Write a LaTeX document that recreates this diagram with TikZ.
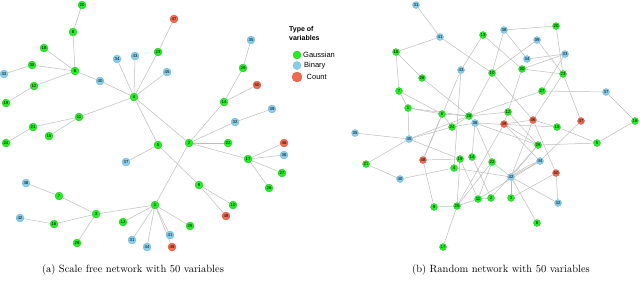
\documentclass[tikz,border=0pt]{standalone}
\usepackage{fontspec}
\newfontfamily\lsans{Liberation Sans}
\usetikzlibrary{backgrounds}
\definecolor{gfill}{HTML}{22EE22}
\definecolor{gdraw}{HTML}{33BB33}
\definecolor{bfill}{HTML}{87CEEB}
\definecolor{bdraw}{HTML}{6FAFD0}
\definecolor{cfill}{HTML}{F26A4F}
\definecolor{cdraw}{HTML}{D05540}
\definecolor{edgec}{HTML}{BDBDBD}
\begin{document}
\begin{tikzpicture}[x=1pt,y=-1pt,
  vbase/.style={circle,inner sep=0pt,line width=0.3pt,font=\lsans\fontsize{4.3}{4.3}\selectfont},
  ga/.style={vbase,minimum size=8pt,fill=gfill,draw=gdraw},
  ba/.style={vbase,minimum size=8pt,fill=bfill,draw=bdraw},
  ca/.style={vbase,minimum size=8pt,fill=cfill,draw=cdraw},
  gb/.style={vbase,minimum size=7pt,fill=gfill,draw=gdraw},
  bb/.style={vbase,minimum size=7pt,fill=bfill,draw=bdraw},
  cb/.style={vbase,minimum size=7pt,fill=cfill,draw=cdraw},
  edge/.style={draw=edgec,line width=0.5pt},
  legtext/.style={anchor=west,inner sep=0pt,font=\lsans\fontsize{7.5}{8}\selectfont},
  captext/.style={inner sep=0pt,font=\fontsize{10.5}{12}\selectfont}
]
\useasboundingbox (0,0) rectangle (640,282);
% ---------- left graph ----------
\node[ga] (a1) at (155,205) {1};
\node[ga] (a2) at (189,143) {2};
\node[ga] (a3) at (96,214) {3};
\node[ga] (a4) at (134,97) {4};
\node[ga] (a5) at (158,145) {5};
\node[ga] (a6) at (75,71) {6};
\node[ga] (a7) at (59,196) {7};
\node[ga] (a8) at (73,32) {8};
\node[ga] (a9) at (199,185) {9};
\node[ga] (a10) at (233,205) {10};
\node[ga] (a11) at (79,117) {11};
\node[ga] (a12) at (34,86) {12};
\node[ga] (a13) at (123,222) {13};
\node[ga] (a14) at (224,102) {14};
\node[ga] (a15) at (49,136) {15};
\node[ga] (a16) at (54,224) {16};
\node[ga] (a17) at (248,159) {17};
\node[ga] (a18) at (44,48) {18};
\node[ga] (a19) at (6,103) {19};
\node[ga] (a20) at (82,5) {20};
\node[ga] (a21) at (33,127) {21};
\node[ga] (a22) at (228,143) {22};
\node[ga] (a23) at (158,52) {23};
\node[ga] (a24) at (6,143) {24};
\node[ga] (a25) at (190,226) {25};
\node[ga] (a26) at (269,188) {26};
\node[ga] (a27) at (282,173) {27};
\node[ga] (a28) at (77,243) {28};
\node[ga] (a29) at (243,68) {29};
\node[ga] (a30) at (32,65) {30};
\node[ba] (a31) at (132,240) {31};
\node[ba] (a32) at (235,122) {32};
\node[ba] (a33) at (4,74) {33};
\node[ba] (a34) at (117,59) {34};
\node[ba] (a35) at (251,40) {35};
\node[ba] (a36) at (284,155) {36};
\node[ba] (a37) at (126,162) {37};
\node[ba] (a38) at (26,183) {38};
\node[ba] (a39) at (272,109) {39};
\node[ba] (a40) at (100,81) {40};
\node[ba] (a41) at (170,235) {41};
\node[ba] (a42) at (20,218) {42};
\node[ba] (a43) at (135,56) {43};
\node[ba] (a44) at (147,247) {44};
\node[ba] (a45) at (167,72) {45};
\node[ca] (a46) at (284,143) {46};
\node[ca] (a47) at (174,19) {47};
\node[ca] (a48) at (226,216) {48};
\node[ca] (a49) at (172,247) {49};
\node[ca] (a50) at (257,85) {50};
% ---------- right graph ----------
\node[gb] (b1) at (408,108) {1};
\node[gb] (b2) at (491,198) {2};
\node[gb] (b3) at (511,198) {3};
\node[gb] (b4) at (454,168) {4};
\node[gb] (b5) at (597,143) {5};
\node[gb] (b6) at (442,114) {6};
\node[gb] (b7) at (399,91) {7};
\node[gb] (b8) at (537,223) {8};
\node[gb] (b9) at (434,207) {9};
\node[gb] (b10) at (492,73) {10};
\node[gb] (b11) at (478,199) {11};
\node[gb] (b12) at (508,112) {12};
\node[gb] (b13) at (483,35) {13};
\node[gb] (b14) at (472,157) {14};
\node[gb] (b15) at (557,127) {15};
\node[gb] (b16) at (396,52) {16};
\node[gb] (b17) at (443,247) {17};
\node[gb] (b18) at (635,121) {18};
\node[gb] (b19) at (460,159) {19};
\node[gb] (b20) at (556,26) {20};
\node[gb] (b21) at (366,164) {21};
\node[gb] (b22) at (492,162) {22};
\node[gb] (b23) at (563,74) {23};
\node[gb] (b24) at (452,127) {24};
\node[gb] (b25) at (457,206) {25};
\node[gb] (b26) at (422,78) {26};
\node[gb] (b27) at (542,91) {27};
\node[gb] (b28) at (469,116) {28};
\node[gb] (b29) at (538,145) {29};
\node[gb] (b30) at (522,69) {30};
\node[bb] (b31) at (416,5) {31};
\node[bb] (b32) at (558,203) {32};
\node[bb] (b33) at (565,54) {33};
\node[bb] (b34) at (527,59) {34};
\node[bb] (b35) at (355,133) {35};
\node[bb] (b36) at (475,123) {36};
\node[bb] (b37) at (606,92) {37};
\node[bb] (b38) at (504,30) {38};
\node[bb] (b39) at (537,40) {39};
\node[bb] (b40) at (400,179) {40};
\node[bb] (b41) at (440,37) {41};
\node[bb] (b42) at (511,177) {42};
\node[bb] (b43) at (461,70) {43};
\node[bb] (b44) at (540,161) {44};
\node[bb] (b45) at (409,139) {45};
\node[cb] (b46) at (533,120) {46};
\node[cb] (b47) at (581,121) {47};
\node[cb] (b48) at (423,160) {48};
\node[cb] (b49) at (504,124) {49};
\node[cb] (b50) at (556,173) {50};
% ---------- edges ----------
\begin{pgfonlayer}{background}
\foreach \u/\v in {20/8,8/6,18/6,30/6,33/30,12/6,19/12,6/40,40/4,34/4,43/4,23/4,47/23,45/4,
  4/11,11/21,21/24,11/15,4/5,5/37,5/9,9/10,9/48,4/2,2/14,14/29,29/35,14/50,2/32,32/39,
  2/22,2/17,17/46,17/36,17/27,17/26,2/1,1/3,3/7,7/38,3/16,16/42,3/28,1/13,1/31,1/44,
  1/41,1/49,1/25}
  \draw[edge] (a\u) -- (a\v);
\foreach \u/\v in {31/41,41/16,41/10,16/7,16/26,26/28,7/1,7/6,1/6,1/28,1/45,6/28,6/24,6/48,
  43/13,43/48,43/4,45/35,45/21,21/40,40/4,45/24,45/19,45/28,24/28,24/36,48/19,48/9,
  9/25,25/17,25/19,25/11,25/22,19/11,4/42,14/36,14/2,11/2,22/36,22/42,22/11,42/3,42/8,
  42/32,42/44,42/29,42/46,50/46,50/3,50/32,44/47,44/49,44/11,29/5,29/49,29/36,29/2,
  5/18,5/15,18/37,37/27,27/28,27/33,33/34,33/30,34/38,38/20,38/10,20/23,23/47,23/30,
  23/39,23/46,39/10,10/28,10/46,13/30,30/49,49/46,46/15,36/15,12/28,12/29,49/25}
  \draw[edge] (b\u) -- (b\v);
\draw[edge] (b42) to[bend left=8] (b44);
\end{pgfonlayer}
% ---------- legend ----------
\node[anchor=north west,inner sep=0pt,align=left,font=\lsans\bfseries\fontsize{7}{9}\selectfont] (legtitle) at (289,26) {Type of\\variables};
\node[ga,minimum size=8pt] (lg) at (297,55) {};
\node[ba,minimum size=8pt] (lb) at (297,65.5) {};
\node[ca,minimum size=10pt] (lc) at (297,77) {};
\node[legtext] (tg) at (303,55) {Gaussian};
\node[legtext] (tb) at (304,65.5) {Binary};
\node[legtext] (tc) at (306.5,77) {Count};
% ---------- captions ----------
\node[captext] (capa) at (133,270) {(a) Scale free network with 50 variables};
\node[captext] (capb) at (501,270) {(b) Random network with 50 variables};
\end{tikzpicture}
\end{document}
